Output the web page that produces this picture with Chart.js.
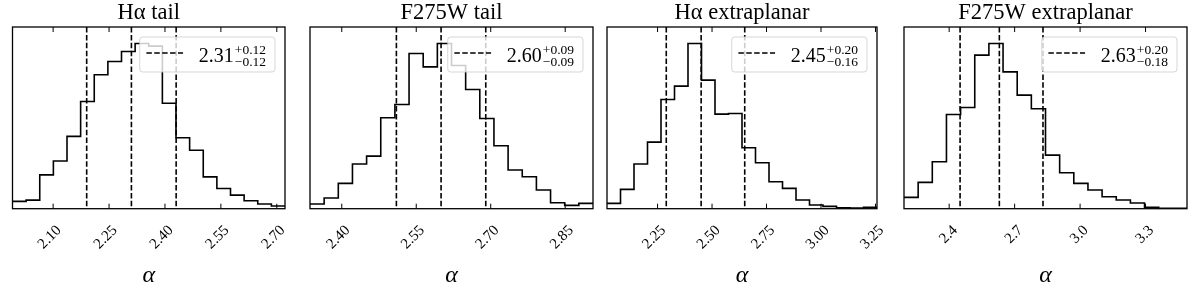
<!DOCTYPE html>
<html>
<head>
<meta charset="utf-8">
<script src="https://cdn.jsdelivr.net/npm/chart.js@4.4.1/dist/chart.umd.min.js"></script>
<style>
  body { margin: 0; background: #fff; width: 1200px; height: 288px; position: relative; overflow: hidden; }
  .panel { position: absolute; top: 0; width: 300px; height: 288px; }
</style>
</head>
<body>
<div class="panel" style="left:0px"><canvas id="p0" width="300" height="288"></canvas></div>
<div class="panel" style="left:300px"><canvas id="p1" width="300" height="288"></canvas></div>
<div class="panel" style="left:600px"><canvas id="p2" width="300" height="288"></canvas></div>
<div class="panel" style="left:900px"><canvas id="p3" width="300" height="288"></canvas></div>
<script>
  // posterior samples of alpha, binned in 20 bins over each panel's x range
  const haTailRange = [1.991, 2.722];
  const haTailCounts = [22, 26, 102, 144, 218, 323, 404, 444, 474, 498, 490, 318, 214, 176, 96, 61, 41, 24, 14, 8];
  const haTailTicks = [2.10, 2.25, 2.40, 2.55, 2.70];
  const haTailStats = [2.31, 0.12, 0.12]; // median, +err, -err

  const uvTailRange = [2.336, 2.906];
  const uvTailCounts = [14, 32, 76, 134, 158, 273, 313, 466, 426, 496, 430, 358, 271, 189, 116, 96, 56, 18, 10, 16];
  const uvTailTicks = [2.40, 2.55, 2.70, 2.85];
  const uvTailStats = [2.60, 0.09, 0.09];

  const haExtraRange = [2.018, 3.257];
  const haExtraCounts = [16, 58, 134, 200, 328, 368, 496, 386, 284, 286, 183, 138, 81, 61, 26, 11, 7, 3, 2, 4];
  const haExtraTicks = [2.25, 2.50, 2.75, 3.00, 3.25];
  const haExtraStats = [2.45, 0.20, 0.16];

  const uvExtraRange = [2.193, 3.49];
  const uvExtraCounts = [34, 79, 141, 283, 304, 461, 496, 411, 341, 300, 161, 108, 76, 56, 36, 26, 17, 4, 1, 1];
  const uvExtraTicks = [2.4, 2.7, 3.0, 3.3];
  const uvExtraStats = [2.63, 0.20, 0.18];

  const titles = ['H\u03b1 tail', 'F275W tail', 'H\u03b1 extraplanar', 'F275W extraplanar'];

  const SERIF = '"Liberation Serif", "Times New Roman", serif';
  const AXIS_BOTTOM = 208.7;

  const panels = [
    { id: 'p0', title: titles[0], range: haTailRange, counts: haTailCounts, ticks: haTailTicks, stats: haTailStats, digits: 2, padL: 12.5, padR: 15 },
    { id: 'p1', title: titles[1], range: uvTailRange, counts: uvTailCounts, ticks: uvTailTicks, stats: uvTailStats, digits: 2, padL: 10, padR: 7 },
    { id: 'p2', title: titles[2], range: haExtraRange, counts: haExtraCounts, ticks: haExtraTicks, stats: haExtraStats, digits: 2, padL: 7, padR: 23 },
    { id: 'p3', title: titles[3], range: uvExtraRange, counts: uvExtraCounts, ticks: uvExtraTicks, stats: uvExtraStats, digits: 1, padL: 4, padR: 13 },
  ];

  function stepPoints(range, counts) {
    const w = (range[1] - range[0]) / counts.length;
    const pts = counts.map((c, i) => ({ x: range[0] + i * w, y: c }));
    pts.push({ x: range[1], y: counts[counts.length - 1] });
    return pts;
  }

  function drawLegend(ctx, a, stats) {
    const main = stats[0].toFixed(2);
    const sup = '+' + stats[1].toFixed(2);
    const sub = '\u2212' + stats[2].toFixed(2);
    ctx.font = '20px ' + SERIF;
    const wMain = ctx.measureText(main).width;
    ctx.font = '13.5px ' + SERIF;
    const wSS = Math.max(ctx.measureText(sup).width, ctx.measureText(sub).width);
    const w = 60 + wMain + 1 + wSS + 8, h = 35;
    const x = a.right - 10 - w, y = a.top + 10;

    ctx.save();
    ctx.beginPath();
    ctx.roundRect(x, y, w, h, 3);
    ctx.fillStyle = 'rgba(255,255,255,0.8)';
    ctx.fill();
    ctx.strokeStyle = 'rgba(204,204,204,0.8)';
    ctx.lineWidth = 1;
    ctx.stroke();

    ctx.beginPath();
    ctx.setLineDash([5.5, 2.4]);
    ctx.strokeStyle = '#000';
    ctx.lineWidth = 1.5;
    ctx.moveTo(x + 6.6, y + 16);
    ctx.lineTo(x + 43.3, y + 16);
    ctx.stroke();
    ctx.setLineDash([]);

    ctx.fillStyle = '#000';
    ctx.textBaseline = 'alphabetic';
    ctx.textAlign = 'left';
    ctx.font = '20px ' + SERIF;
    ctx.fillText(main, x + 59, y + 24.5);
    ctx.font = '13.5px ' + SERIF;
    ctx.fillText(sup, x + 60 + wMain, y + 17);
    ctx.fillText(sub, x + 60 + wMain, y + 29);
    ctx.restore();
  }

  const decor = {
    id: 'decor',
    afterDatasetsDraw(chart, args, opts) {
      const ctx = chart.ctx, a = chart.chartArea, xs = chart.scales.x;
      const s = opts.stats;
      ctx.save();
      // 16th, 50th, 84th percentiles
      ctx.strokeStyle = '#000';
      ctx.lineWidth = 1.6;
      ctx.setLineDash([5.5, 2.4]);
      [s[0] - s[2], s[0], s[0] + s[1]].forEach(v => {
        const px = xs.getPixelForValue(v);
        ctx.beginPath();
        ctx.moveTo(px, a.top);
        ctx.lineTo(px, a.bottom);
        ctx.stroke();
      });
      ctx.setLineDash([]);
      ctx.restore();
    },
    afterDraw(chart, args, opts) {
      const ctx = chart.ctx, a = chart.chartArea, xs = chart.scales.x;
      drawLegend(ctx, a, opts.stats);
      ctx.save();
      ctx.strokeStyle = '#000';
      ctx.lineWidth = 1.3;
      ctx.strokeRect(a.left, a.top, a.right - a.left, a.bottom - a.top);
      ctx.lineWidth = 1;
      opts.ticks.forEach(v => {
        const px = xs.getPixelForValue(v);
        ctx.beginPath();
        ctx.moveTo(px, a.top);
        ctx.lineTo(px, a.top + 5);
        ctx.moveTo(px, a.bottom);
        ctx.lineTo(px, a.bottom - 5);
        ctx.stroke();
      });
      ctx.restore();
    }
  };

  panels.forEach(p => {
    const ctx = document.getElementById(p.id).getContext('2d');
    new Chart(ctx, {
      type: 'line',
      data: {
        datasets: [{
          data: stepPoints(p.range, p.counts),
          stepped: 'before',
          borderColor: '#000',
          borderWidth: 1.6,
          pointRadius: 0,
          fill: false,
        }],
      },
      options: {
        responsive: false,
        animation: false,
        layout: { padding: { left: p.padL, right: p.padR, top: 0, bottom: 0 } },
        scales: {
          x: {
            type: 'linear',
            min: p.range[0],
            max: p.range[1],
            grid: { display: false },
            border: { display: false },
            afterBuildTicks: s => { s.ticks = p.ticks.map(v => ({ value: v })); },
            afterFit: s => { s.height = 288 - AXIS_BOTTOM; },
            ticks: {
              autoSkip: false,
              minRotation: 45,
              maxRotation: 45,
              padding: 5,
              labelOffset: 6,
              color: '#000',
              font: { family: SERIF, size: 15 },
              callback: v => Number(v).toFixed(p.digits),
            },
            title: {
              display: true,
              text: '\u03b1',
              color: '#000',
              font: { family: SERIF, size: 24, style: 'italic', lineHeight: 1 },
              padding: { top: 0, bottom: 0 },
            },
          },
          y: {
            display: false,
            min: 0,
            max: 1.1 * Math.max(...p.counts),
          },
        },
        plugins: {
          legend: { display: false },
          tooltip: { enabled: false },
          title: {
            display: true,
            text: p.title,
            color: '#000',
            font: { family: SERIF, size: 22.5, weight: 'normal', lineHeight: 27 / 22.5 },
            padding: { top: 0, bottom: 0 },
          },
          decor: { stats: p.stats, ticks: p.ticks },
        },
      },
      plugins: [decor],
    });
  });
</script>
</body>
</html>
